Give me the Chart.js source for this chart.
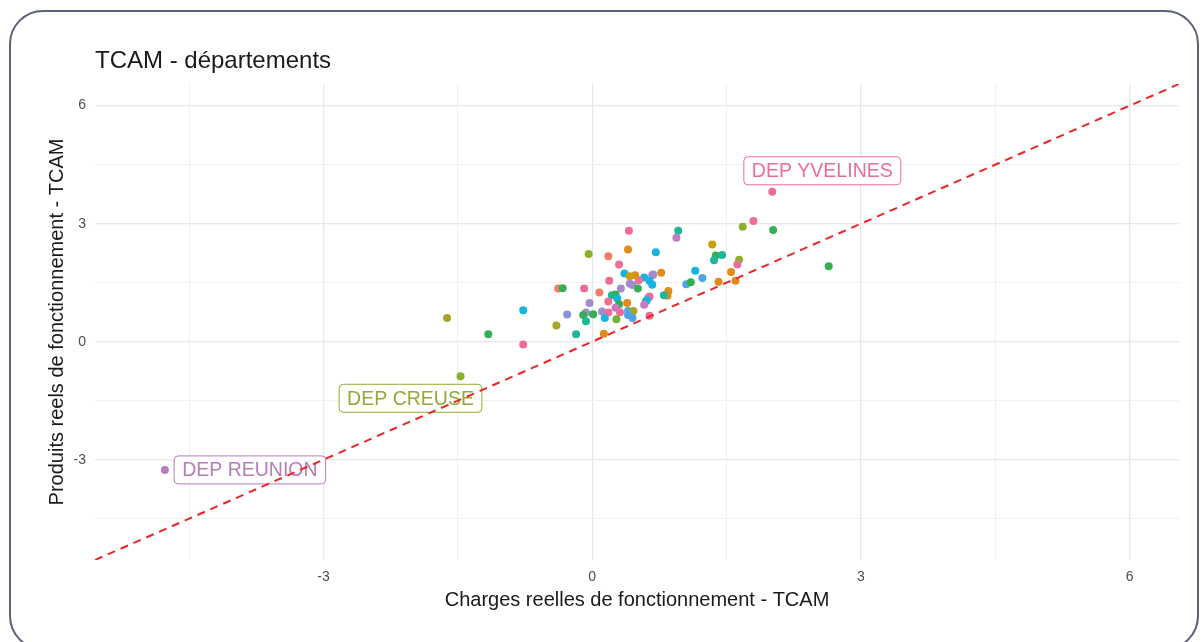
<!DOCTYPE html>
<html>
<head>
<meta charset="utf-8">
<script src="https://cdn.jsdelivr.net/npm/chart.js@4"></script>
<style>
    html, body { margin: 0; padding: 0; background: #fff; overflow: hidden; }
    #wrap { position: relative; width: 1203px; height: 642px; }
    #frame {
        position: absolute; left: 9px; top: 10px; width: 1190px; height: 640px;
        border: 2px solid #5b6275; border-radius: 34px; box-sizing: border-box;
    }
    canvas { position: absolute; left: 0; top: 0; }
</style>
</head>
<body>
<div id="wrap">
    <div id="frame"></div>
    <canvas id="chart" width="1203" height="642"></canvas>
</div>
<script>
// Data (x = charges TCAM, y = produits TCAM)
const deptX = [-4.77, -1.47, 2.01, -1.62, -1.16, -0.77, -0.77, 2.64, 2.02, 1.80,
    1.68, -0.40, -0.18, -0.28, -0.38, -0.33, -0.09, -0.04, 0.08, 0.18,
    0.40, 0.41, 0.30, 0.36, 0.19, 0.32, 0.22, 0.26, 0.28, 0.18,
    0.30, 0.39, -0.03, 0.26, 0.11, -0.07, -0.10, 0.01, -0.07, 0.18,
    0.31, 0.14, 0.27, 0.40, 0.13, 0.96, 0.94, 0.71, 1.34, 1.38,
    1.45, 1.36, 1.64, 1.62, 1.55, 1.60, 1.41, 1.15, 1.23, 1.05,
    1.10, 0.77, 0.67, 0.68, 0.58, 0.64, 0.67, 0.52, 0.48, 0.42,
    0.42, 0.45, 0.51, 0.85, 0.84, 0.80, 0.64, 0.63, 0.60, 0.61,
    0.58, 0.64, 0.46, 0.40, 0.45];
const deptY = [-3.26, -0.88, 3.81, 0.60, 0.19, 0.80, -0.07, 1.92, 2.84, 3.07,
    2.92, 0.41, 0.19, 0.69, 1.35, 1.36, 1.35, 2.23, 1.25, 2.17,
    2.34, 2.82, 1.96, 1.73, 1.55, 1.35, 1.18, 1.20, 1.10, 1.02,
    0.95, 0.98, 0.98, 0.86, 0.77, 0.74, 0.68, 0.70, 0.52, 0.74,
    0.75, 0.60, 0.57, 0.78, 0.20, 2.82, 2.64, 2.27, 2.47, 2.19,
    2.20, 2.07, 2.08, 1.96, 1.77, 1.55, 1.52, 1.80, 1.62, 1.46,
    1.51, 1.75, 1.69, 1.71, 1.63, 1.54, 1.45, 1.56, 1.69, 1.66,
    1.47, 1.44, 1.35, 1.29, 1.17, 1.18, 1.15, 1.12, 1.03, 1.05,
    0.94, 0.66, 0.78, 0.68, 0.60];
const labelIndex = [0, 1, 2];
const labelNames = ['DEP REUNION', 'DEP CREUSE', 'DEP YVELINES'];
const refLine = [-5.55, 6.55];
const axisMin = -5.55;
const axisMax = 6.55;

// Colours of the points (hue palette, one per departement)
const C = {
    pink: '#ee6c9a', salmon: '#f07e6a', orange: '#e08b1a', gold: '#c9a000',
    olive: '#aaa520', oliveGreen: '#8db02a', yellowGreen: '#74b62f', green: '#35af54',
    teal: '#20b69a', cyan: '#18b4e0', blue: '#4fa3e8', bluePurple: '#8594da',
    purple: '#a38bd0', mauve: '#c57ac4', reunion: '#b57dba'
};
const deptColors = [C.reunion, C.oliveGreen, C.pink, C.olive, C.green, C.cyan, C.pink, C.green, C.green, C.pink,
    C.oliveGreen, C.olive, C.teal, C.bluePurple, C.salmon, C.green, C.pink, C.oliveGreen, C.salmon, C.salmon,
    C.orange, C.pink, C.pink, C.cyan, C.pink, C.purple, C.teal, C.green, C.cyan, C.pink,
    C.green, C.orange, C.purple, C.mauve, C.purple, C.purple, C.green, C.green, C.teal, C.pink,
    C.pink, C.cyan, C.yellowGreen, C.blue, C.orange, C.teal, C.mauve, C.cyan, C.gold, C.green,
    C.teal, C.teal, C.oliveGreen, C.pink, C.orange, C.orange, C.orange, C.cyan, C.blue, C.blue,
    C.green, C.orange, C.purple, C.purple, C.cyan, C.cyan, C.cyan, C.pink, C.orange, C.gold,
    C.purple, C.purple, C.green, C.orange, C.orange, C.teal, C.pink, C.pink, C.green, C.cyan,
    C.mauve, C.pink, C.olive, C.blue, C.blue];
const labelColors = ['#b57dba', '#94a93a', '#ee6c9a'];
const labelOffsets = [[85, 0], [-50, 22], [50, -21]];

const FONT = "'Liberation Sans', Arial, sans-serif";

// labels drawn under the points and the dashed line
const labelPlugin = {
    id: 'deptLabels',
    beforeDatasetsDraw(chart) {
        const ctx = chart.ctx;
        const xs = chart.scales.x, ys = chart.scales.y;
        ctx.save();
        ctx.font = '19.5px ' + FONT;
        ctx.textAlign = 'center';
        ctx.textBaseline = 'middle';
        labelIndex.forEach(function(idx, i) {
            const cx = xs.getPixelForValue(deptX[idx]) + labelOffsets[i][0];
            const cy = ys.getPixelForValue(deptY[idx]) + labelOffsets[i][1];
            const w = ctx.measureText(labelNames[i]).width + 16;
            const h = 28;
            ctx.beginPath();
            ctx.roundRect(cx - w / 2, cy - h / 2, w, h, 4);
            ctx.fillStyle = '#fff';
            ctx.fill();
            ctx.lineWidth = 1;
            ctx.strokeStyle = labelColors[i];
            ctx.stroke();
            ctx.fillStyle = labelColors[i];
            ctx.fillText(labelNames[i], cx, cy + 1);
        });
        ctx.restore();
    }
};

function gridColor(ctx) {
    return ctx.tick && Math.abs(ctx.tick.value % 3) < 1e-6 ? '#e8e8e8' : '#f1f1f1';
}
function gridWidth(ctx) {
    return ctx.tick && Math.abs(ctx.tick.value % 3) < 1e-6 ? 1.3 : 1;
}
function tickLabel(v) {
    return Math.abs(v % 3) < 1e-6 ? String(v) : '';
}

new Chart(document.getElementById('chart'), {
    type: 'scatter',
    data: {
        datasets: [{
            type: 'line',
            data: refLine.map(v => ({ x: v, y: v })),
            borderColor: '#ee2424',
            borderWidth: 2,
            borderDash: [8, 6],
            pointRadius: 0,
            fill: false
        }, {
            data: deptX.map((x, i) => ({ x: x, y: deptY[i] })),
            backgroundColor: deptColors,
            borderWidth: 0,
            pointRadius: 4
        }]
    },
    options: {
        responsive: false,
        animation: false,
        layout: { padding: { left: 40, right: 24, top: 47, bottom: 24 } },
        plugins: {
            legend: { display: false },
            tooltip: { enabled: false },
            title: {
                display: true,
                text: 'TCAM - départements',
                align: 'start',
                fullSize: false,
                color: '#1a1a1a',
                font: { family: FONT, size: 24, weight: 'normal', lineHeight: 1.2 },
                padding: { top: 0, bottom: 8.2 }
            }
        },
        scales: {
            x: {
                type: 'linear',
                min: axisMin, max: axisMax,
                border: { display: false },
                grid: { color: gridColor, lineWidth: gridWidth, drawTicks: false },
                ticks: {
                    stepSize: 1.5, includeBounds: false, autoSkip: false, maxRotation: 0,
                    padding: 9, color: '#4d4d4d', font: { family: FONT, size: 14 },
                    callback: tickLabel
                },
                title: {
                    display: true, text: 'Charges reelles de fonctionnement - TCAM',
                    color: '#1a1a1a', font: { family: FONT, size: 20, lineHeight: 1.2 },
                    padding: { top: 0, bottom: 6 }
                },
                afterFit(scale) { scale.height = 58; }
            },
            y: {
                type: 'linear',
                min: axisMin, max: axisMax,
                border: { display: false },
                grid: { color: gridColor, lineWidth: gridWidth, drawTicks: false },
                ticks: {
                    stepSize: 1.5, includeBounds: false, autoSkip: false,
                    padding: 9, color: '#4d4d4d', font: { family: FONT, size: 14 },
                    callback: tickLabel
                },
                title: {
                    display: true, text: 'Produits reels de fonctionnement - TCAM',
                    color: '#1a1a1a', font: { family: FONT, size: 20, lineHeight: 1.2 },
                    padding: { top: 5, bottom: 0 }
                },
                afterFit(scale) { scale.width = 55; }
            }
        }
    },
    plugins: [labelPlugin]
});
</script>
</body>
</html>
